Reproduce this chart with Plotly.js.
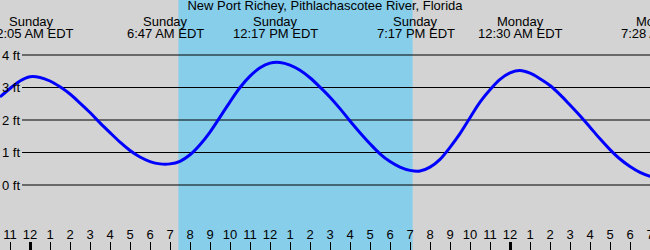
<!DOCTYPE html>
<html>
<head>
<meta charset="utf-8">
<script src="https://cdn.plot.ly/plotly-3.0.1.min.js"></script>
<style>html,body{margin:0;padding:0;background:#d3d3d3;overflow:hidden;width:650px;height:250px;}#chart{width:660px;height:250px;}</style>
</head>
<body>
<div id="chart"></div>
<script>
// Hours since Sunday 00:00 (local, EDT)
const tideHours = [-1.5, -1.0, -0.5, 0.0, 0.5, 1.0, 1.5, 2.0, 2.5, 3.0, 3.5, 4.0, 4.5, 5.0, 5.5, 6.0, 6.5, 7.0, 7.5, 8.0, 8.5, 9.0, 9.5, 10.0, 10.5, 11.0, 11.5, 12.0, 12.5, 13.0, 13.5, 14.0, 14.5, 15.0, 15.5, 16.0, 16.5, 17.0, 17.5, 18.0, 18.5, 19.0, 19.5, 20.0, 20.5, 21.0, 21.5, 22.0, 22.5, 23.0, 23.5, 24.0, 24.5, 25.0, 25.5, 26.0, 26.5, 27.0, 27.5, 28.0, 28.5, 29.0, 29.5, 30.0, 30.5, 31.0, 31.5];
const tideFeet  = [2.71, 2.97, 3.20, 3.33, 3.31, 3.20, 3.02, 2.80, 2.52, 2.23, 1.91, 1.61, 1.32, 1.06, 0.86, 0.72, 0.65, 0.65, 0.73, 0.93, 1.24, 1.63, 2.09, 2.56, 3.00, 3.35, 3.61, 3.75, 3.77, 3.69, 3.53, 3.30, 3.01, 2.70, 2.35, 1.97, 1.61, 1.27, 0.96, 0.72, 0.55, 0.45, 0.43, 0.55, 0.79, 1.16, 1.58, 2.07, 2.55, 2.93, 3.25, 3.45, 3.52, 3.44, 3.27, 3.06, 2.78, 2.46, 2.13, 1.78, 1.42, 1.09, 0.80, 0.57, 0.39, 0.27, 0.21];

const eventHours = [0.083, 6.783, 12.283, 19.283, 24.5, 31.467];
const eventDays  = ["Sunday", "Sunday", "Sunday", "Sunday", "Monday", "Monday"];
const eventTimes = ["12:05 AM EDT", "6:47 AM EDT", "12:17 PM EDT", "7:17 PM EDT", "12:30 AM EDT", "7:28 AM EDT"];

const sunrise = 7.42;
const sunset = 19.13;

const hourTicks  = [-1,0,1,2,3,4,5,6,7,8,9,10,11,12,13,14,15,16,17,18,19,20,21,22,23,24,25,26,27,28,29,30,31];
const hourLabels = ["11","12","1","2","3","4","5","6","7","8","9","10","11","12","1","2","3","4","5","6","7","8","9","10","11","12","1","2","3","4","5","6","7"];
const midnightTicks = [0, 24];

const ftTicks  = [0, 1, 2, 3, 4];
const ftLabels = ["0 ft", "1 ft", "2 ft", "3 ft", "4 ft"];

const title = "New Port Richey, Pithlachascotee River, Florida";

const W = 660, H = 250;
const xRange = [-1.5, 31.5];
const yRange = [-2.0, 5.692];
const FONT = "Liberation Sans, Arial, sans-serif";
const toPaper = h => (h - xRange[0]) / (xRange[1] - xRange[0]);

const shapes = [
  {type: "rect", xref: "x", yref: "paper", x0: sunrise, x1: sunset, y0: 0, y1: 1,
   fillcolor: "#87ceeb", line: {width: 0}, layer: "below"}
];
ftTicks.forEach(v => shapes.push({type: "line", xref: "paper", yref: "y", x0: 22/W, x1: 1, y0: v, y1: v,
  line: {color: "#000", width: 1.2}, layer: "below"}));

const annotations = [];
eventHours.forEach((h, i) => {
  annotations.push({xref: "paper", yref: "paper", x: toPaper(h), y: 1, yshift: -12, xanchor: "center", yanchor: "top",
    text: eventDays[i], showarrow: false, font: {family: FONT, size: 13, color: "#000"}});
  annotations.push({xref: "paper", yref: "paper", x: toPaper(h), y: 1, yshift: -24, xanchor: "center", yanchor: "top",
    text: eventTimes[i], showarrow: false, font: {family: FONT, size: 13, color: "#000"}});
});

const data = [
  {x: tideHours, y: tideFeet, type: "scatter", mode: "lines", line: {color: "#0000ff", width: 3, shape: "spline", smoothing: 1}, hoverinfo: "skip"},
  {x: [xRange[0]], y: [yRange[0]], xaxis: "x2", type: "scatter", mode: "markers", marker: {opacity: 0}, hoverinfo: "skip"}
];

const layout = {
  width: W, height: H,
  margin: {l: 0, r: 0, t: 0, b: 0, pad: 0},
  paper_bgcolor: "#d3d3d3", plot_bgcolor: "#d3d3d3",
  showlegend: false,
  title: {text: title, font: {family: FONT, size: 13, color: "#000"}, x: 325/W, xref: "container", xanchor: "center", y: 1, yref: "container", yanchor: "top", pad: {t: 1}},
  xaxis: {range: xRange, tickmode: "array", tickvals: hourTicks, ticktext: hourLabels,
    ticks: "inside", ticklen: 8, tickwidth: 1, tickcolor: "#000", ticklabelposition: "inside",
    tickfont: {family: FONT, size: 13, color: "#000"}, showgrid: false, zeroline: false, showline: false, fixedrange: true},
  xaxis2: {range: xRange, overlaying: "x", anchor: "y", side: "bottom", tickmode: "array", tickvals: midnightTicks,
    ticks: "inside", ticklen: 8, tickwidth: 3, tickcolor: "#000", showticklabels: false, showgrid: false, zeroline: false, showline: false},
  yaxis: {range: yRange, anchor: "free", position: 22/W, side: "left", tickmode: "array", tickvals: ftTicks, ticktext: ftLabels, ticks: "",
    ticklabelposition: "outside", ticklabelstandoff: 2,
    tickfont: {family: FONT, size: 13, color: "#000"}, showgrid: false, zeroline: false, showline: false, fixedrange: true},
  shapes: shapes,
  annotations: annotations
};

Plotly.newPlot("chart", data, layout, {displayModeBar: false, staticPlot: true});
</script>
</body>
</html>
